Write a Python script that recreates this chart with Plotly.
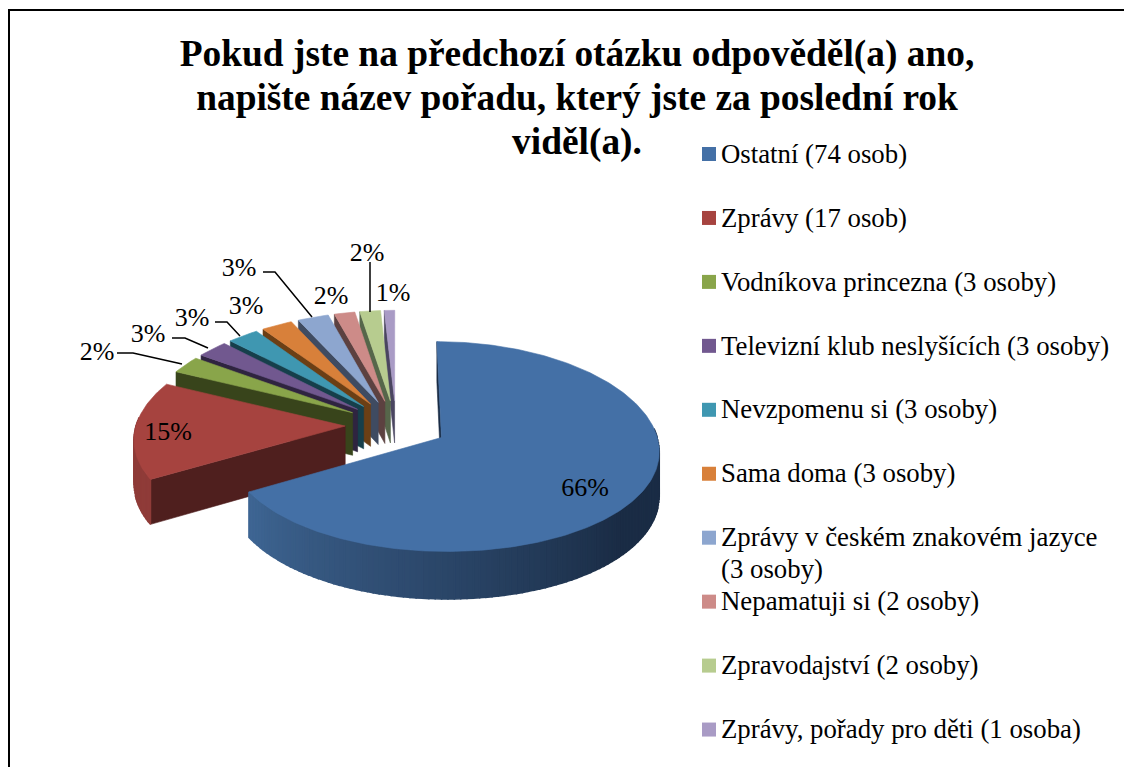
import math
import plotly.graph_objects as go

CATEGORIES = ["Ostatní", "Zprávy", "Vodníkova princezna", "Televizní klub neslyšících",
              "Nevzpomenu si", "Sama doma", "Zprávy v českém znakovém jazyce",
              "Nepamatuji si", "Zpravodajství", "Zprávy, pořady pro děti"]
COUNTS = [74, 17, 3, 3, 3, 3, 3, 2, 2, 1]
PERCENT_LABELS = ["66%", "15%", "2%", "3%", "3%", "3%", "3%", "2%", "2%", "1%"]
LEGEND_LINES = [["Ostatní (74 osob)"], ["Zprávy (17 osob)"], ["Vodníkova princezna (3 osoby)"],
                ["Televizní klub neslyšících (3 osoby)"], ["Nevzpomenu si (3 osoby)"],
                ["Sama doma (3 osoby)"], ["Zprávy v českém znakovém jazyce", "(3 osoby)"],
                ["Nepamatuji si (2 osoby)"], ["Zpravodajství (2 osoby)"],
                ["Zprávy, pořady pro děti (1 osoba)"]]
TOP_COLORS = ["#4470A6", "#A6433F", "#89A54A", "#71588F", "#3F97B1", "#D8803A",
              "#8DA6CF", "#CD8B88", "#B7CC8F", "#A99BC5"]
WALL_COLORS = ["#1A2C45", "#4F1F1E", "#38441B", "#2F2440", "#163F4B", "#6B3F15",
               "#3F4B61", "#5C4140", "#56664A", "#4A4560"]
RIM_COLORS = ["#3F6694", "#8F3B38", "#6F853C", "#5A4672", "#317A8E", "#AE662E",
              "#7085A6", "#A56F6D", "#92A372", "#877C9E"]
LABEL_XY = [(585, 489), (168, 433), (97, 353), (148, 335), (192, 319), (246, 307),
            (239, 269), (331, 297), (367, 254), (393, 294)]
LEADERS = [None, None, [(117, 353), (133, 353), (182, 364)], [(172, 338), (185, 338), (208, 348)],
           [(215, 322), (227, 322), (240, 336)], None, [(263, 272), (275, 272), (312, 317)],
           None, [(370, 262), (370, 312)], None]

# The page body has an 8 px margin: the figure fills the rest and the axes run in window pixels.
PAGE_MARGIN = 8
W, H = 1132, 767
CX, CY, RX_RIGHT, RX_LEFT, RY, K, KX, EXPLODE, DEPTH = 396, 425, 213, 209, 102, 0.085, 0.11, 0.243, 43


def project(px, py, drop=0.0):
    w = 1 / (1 + K * py)
    wx = 1 / (1 + KX * py)
    rx = RX_RIGHT if px > 0 else RX_LEFT
    return CX + rx * px * wx, CY - RY * py * w + drop * w


def hex_mix(c1, c2, t):
    a = [int(c1[i:i + 2], 16) for i in (1, 3, 5)]
    b = [int(c2[i:i + 2], 16) for i in (1, 3, 5)]
    return "#%02X%02X%02X" % tuple(round(x + (y - x) * t) for x, y in zip(a, b))


fig = go.Figure()


def poly(pts, color, lw=0.6):
    fig.add_trace(go.Scatter(x=[p[0] for p in pts] + [pts[0][0]], y=[p[1] for p in pts] + [pts[0][1]],
                             mode="lines", fill="toself", fillcolor=color,
                             line=dict(color=color, width=lw), hoverinfo="skip", showlegend=False))


total = sum(COUNTS)
spans, start = [], 0.0
for c in COUNTS:
    spans.append((start, start + 360.0 * c / total))
    start += 360.0 * c / total

for i in reversed(range(len(COUNTS))):
    a0, a1 = spans[i]
    mid = math.radians((a0 + a1) / 2)
    ox, oy = EXPLODE * math.sin(mid), EXPLODE * math.cos(mid)

    def rim(deg, drop=0.0):
        r = math.radians(deg)
        return project(ox + math.sin(r), oy + math.cos(r), drop)

    apex, apex_d = project(ox, oy), project(ox, oy, DEPTH)
    # radial wall
    poly([apex, apex_d, rim(a0, DEPTH), rim(a0)], WALL_COLORS[i])
    # rim wall, shaded by angle
    lo, hi = max(a0, 85.0), min(a1, 275.0)
    if hi > lo:
        n = max(2, int((hi - lo) / 1.5))
        for j in range(n):
            d0 = lo + (hi - lo) * j / n
            d1 = lo + (hi - lo) * (j + 1) / n
            t = (d0 - lo) / (hi - lo)
            if i == 0:
                col = hex_mix(WALL_COLORS[0], RIM_COLORS[0], max(0.0, (t - 0.3) / 0.7))
            else:
                col = RIM_COLORS[i]
            poly([rim(d0), rim(d0, DEPTH), rim(d1, DEPTH), rim(d1)], col, 1.5)
    # top face
    n = max(4, int(a1 - a0))
    poly([apex] + [rim(a0 + (a1 - a0) * j / n) for j in range(n + 1)], TOP_COLORS[i])

# data labels and leaders
for leader in LEADERS:
    if leader:
        fig.add_trace(go.Scatter(x=[p[0] for p in leader], y=[p[1] for p in leader], mode="lines",
                                 line=dict(color="#000000", width=1.5), hoverinfo="skip", showlegend=False))
FONT = "Liberation Serif, Times New Roman, serif"
fig.add_trace(go.Scatter(x=[p[0] for p in LABEL_XY], y=[p[1] for p in LABEL_XY], mode="text",
                         text=PERCENT_LABELS, textposition="middle center",
                         textfont=dict(family=FONT, size=26, color="#000000"),
                         hoverinfo="skip", showlegend=False))

# legend
ROW0, ROW_STEP, LINE_STEP, SWATCH_X, TEXT_X, TEXT_DY = 154, 63.95, 32, 709, 721, 2
for i, lines in enumerate(LEGEND_LINES):
    y = ROW0 + ROW_STEP * i
    fig.add_trace(go.Scatter(x=[SWATCH_X], y=[y], mode="markers", name=CATEGORIES[i],
                             marker=dict(symbol="square", size=14, color=TOP_COLORS[i]),
                             hoverinfo="name", showlegend=False))
    fig.add_trace(go.Scatter(x=[TEXT_X] * len(lines), y=[y + TEXT_DY + LINE_STEP * n for n in range(len(lines))],
                             mode="text", text=lines, textposition="middle right",
                             textfont=dict(family=FONT, size=26.8, color="#000000"),
                             hoverinfo="skip", showlegend=False))

TITLE_LINES = ["Pokud jste na předchozí otázku odpověděl(a) ano,",
               "napište název pořadu, který jste za poslední rok", "viděl(a)."]
title_text = "<br>".join('<span style="font-size:37.4px">%s</span>' % t for t in TITLE_LINES)

fig_w, fig_h = W - PAGE_MARGIN, H - PAGE_MARGIN
border = dict(type="line", xref="x", yref="y", line=dict(color="#000000", width=2))
fig.update_layout(
    width=fig_w, height=fig_h, autosize=False, margin=dict(l=0, r=0, t=0, b=0),
    paper_bgcolor="#FFFFFF", plot_bgcolor="#FFFFFF", showlegend=False,
    title=dict(text=title_text, font=dict(family=FONT, size=33.85, color="#000000", weight="bold"),
               x=(577 - PAGE_MARGIN) / fig_w, xanchor="center",
               y=1 - (66 - PAGE_MARGIN) / fig_h, yanchor="middle"),
    xaxis=dict(range=[PAGE_MARGIN, W], visible=False, fixedrange=True),
    yaxis=dict(range=[H, PAGE_MARGIN], visible=False, fixedrange=True),
    shapes=[dict(border, x0=9, x1=9, y0=10, y1=H),
            dict(border, x0=8, x1=W, y0=10, y1=10)],
)
fig.write_html("out.html")
